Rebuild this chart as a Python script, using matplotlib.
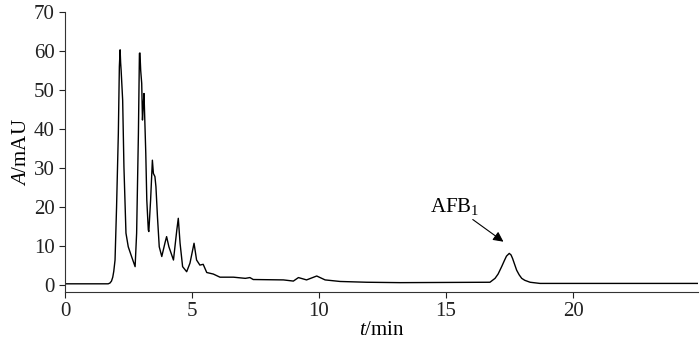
import matplotlib
matplotlib.use('Agg')
import matplotlib.pyplot as plt

plt.rcParams['font.family'] = ['Liberation Serif', 'DejaVu Serif']
plt.rcParams['mathtext.fontset'] = 'custom'
plt.rcParams['mathtext.it'] = 'Liberation Serif:italic'
plt.rcParams['mathtext.rm'] = 'Liberation Serif'

# 色谱图数据 (读图得到的点)
t_min = [0.0, 1.70, 1.77, 1.83, 1.88, 1.92, 1.97, 2.03, 2.10, 2.14, 2.17, 2.19,
         2.21, 2.27, 2.32, 2.40, 2.49, 2.62, 2.76, 2.82, 2.89, 2.93, 2.95, 2.98,
         3.02, 3.05, 3.08, 3.11, 3.12, 3.18, 3.22, 3.28, 3.30, 3.37, 3.44, 3.48,
         3.54, 3.58, 3.64, 3.71, 3.81, 3.94, 4.00, 4.09, 4.27, 4.40, 4.46, 4.53,
         4.63, 4.79, 4.92, 5.08, 5.18, 5.31, 5.44, 5.58, 5.84, 6.10, 6.63, 7.10,
         7.28, 7.41, 8.60, 8.99, 9.19, 9.51, 9.91, 10.24, 10.83, 11.88, 13.19,
         16.73, 16.93, 17.05, 17.19, 17.30, 17.38, 17.49, 17.56, 17.62, 17.70,
         17.78, 17.88, 17.98, 18.10, 18.31, 18.70, 24.90]
a_mau = [0.3, 0.3, 0.5, 1.0, 2.0, 3.5, 6.4, 20.0, 38.9, 56.0, 60.3, 57.0,
         55.0, 47.4, 30.3, 13.3, 9.8, 7.3, 4.7, 13.3, 38.9, 59.4, 59.5, 55.0,
         51.7, 42.3, 46.0, 49.1, 47.0, 33.8, 21.8, 14.1, 13.7, 21.8, 32.0, 28.6,
         27.8, 25.2, 17.5, 9.8, 7.3, 10.9, 12.4, 9.8, 6.4, 14.0, 17.1, 10.7,
         4.7, 3.4, 5.6, 10.7, 6.4, 5.1, 5.3, 3.2, 2.8, 2.0, 2.0, 1.7,
         1.9, 1.4, 1.3, 1.0, 1.9, 1.3, 2.3, 1.3, 0.9, 0.7, 0.6,
         0.7, 1.7, 2.8, 4.7, 6.3, 7.4, 8.1, 7.7, 6.8, 5.3,
         3.8, 2.6, 1.7, 1.2, 0.7, 0.4, 0.4]

x_ticks = [0, 5, 10, 15, 20]
y_ticks = [0, 10, 20, 30, 40, 50, 60, 70]

fig = plt.figure(figsize=(7, 3.47), dpi=100)
ax = fig.add_axes([65 / 700, 1 - 292 / 347, 633 / 700, 280 / 347])

ax.plot(t_min, a_mau, color='black', lw=1.0)

ax.set_xlim(0, 24.92)
ax.set_ylim(-1.8, 70)
ax.set_xticks(x_ticks)
ax.set_yticks(y_ticks)
ax.tick_params(labelsize=15, length=4, width=0.8, direction='out', colors='#222222')
ax.spines['top'].set_visible(False)
ax.spines['right'].set_visible(False)
for s in ['left', 'bottom']:
    ax.spines[s].set_linewidth(0.8)
    ax.spines[s].set_color('#333333')

ax.set_xlabel('$t$/min', fontsize=15, labelpad=0)
ax.set_ylabel('$A$/mAU', fontsize=15, labelpad=2)

# AFB1 峰标注
ax.annotate('AFB$_1$', xy=(17.26, 11.1), xytext=(16.3, 17.5),
            fontsize=15, ha='right', va='bottom',
            arrowprops=dict(arrowstyle='-|>', color='black', lw=0.8,
                            mutation_scale=15, shrinkA=0, shrinkB=0))

fig.savefig('out.png', dpi=100)
